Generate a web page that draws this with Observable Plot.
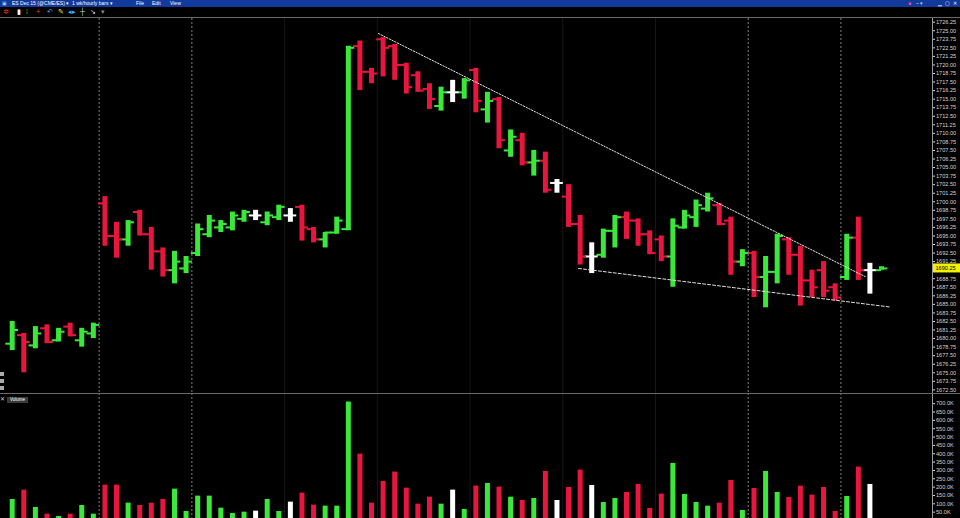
<!DOCTYPE html>
<html><head><meta charset="utf-8">
<script src="https://cdn.jsdelivr.net/npm/d3@7"></script>
<script src="https://cdn.jsdelivr.net/npm/@observablehq/plot@0.6"></script>
<style>
html,body{margin:0;padding:0;background:#000;overflow:hidden;width:960px;height:518px;font-family:"Liberation Sans",Arial,sans-serif}
#title{height:7px;background:#12399c;color:#fff;font-size:5px;line-height:7px;white-space:nowrap;position:relative}
#title span{position:absolute;top:0}
#tools{height:10px;background:#000;font-size:7px;line-height:10px;position:relative;white-space:nowrap}
#tools span{position:absolute;top:0}
#sep{height:1px;background:#6a6a6a}
#wrap{position:relative}
.vlabel{position:absolute;left:7px;top:397px;background:#3a3a3a;color:#fff;font-size:4.5px;line-height:6px;padding:0 3px}
.icon{position:absolute;left:0;width:4px;height:4px;background:#aaa}
svg{display:block}
</style></head>
<body>
<div id="title">
  <span style="left:2px;color:#9cf">▣</span>
  <span style="left:12px">ES Dec 15 (@CME/ES) ▾</span>
  <span style="left:72px">1 wk/hourly bars ▾</span>
  <span style="left:136px">File</span>
  <span style="left:152px">Edit</span>
  <span style="left:170px">View</span>
  <span style="left:908px;color:#ff3c8c">■</span>
  <span style="left:916px;color:#ccc">~ ▾</span>
  <span style="left:938px">▁</span>
  <span style="left:945px">▢</span>
  <span style="left:953px">✕</span>
</div>
<div id="tools">
  <span style="left:3px;color:#e33">✲</span>
  <span style="left:17px;color:#fff">▮</span>
  <span style="left:26px;color:#3e3">⁞</span>
  <span style="left:36px;color:#e33">+</span>
  <span style="left:47px;color:#4af">↶</span>
  <span style="left:58px;color:#ee3">✎</span>
  <span style="left:68px;color:#4af">◂▸</span>
  <span style="left:80px;color:#ddd">┼</span>
  <span style="left:90px;color:#ddd">↘</span>
  <span style="left:101px;color:#888">▾</span>
</div>
<div id="sep"></div>
<div id="wrap"></div>
<div class="vlabel">Volume</div>
<div class="icon" style="top:372px"></div>
<div class="icon" style="top:379px"></div>
<div class="icon" style="top:386px"></div>
<div style="position:absolute;left:0;top:395px;color:#ccc;font-size:6px">✕</div>
<script>
// ---- data (hourly OHLC bars, ES Dec 15) ----
const opens = [1679.25,1680.5,1679.0,1681.5,1679.75,1681.75,1679.75,1680.75,
  1699.75,1695.0,1694.5,1698.5,1695.25,1692.75,1690.0,1690.25,
  1692.5,1695.25,1696.25,1696.25,1697.5,1698.0,1697.0,1697.75,
  1698.0,1699.25,1696.0,1694.5,1695.5,1696.0,1722.75,1719.0,
  1723.75,1722.75,1720.0,1718.5,1716.5,1714.0,1716.0,1716.0,
  1719.25,1713.5,1715.0,1707.5,1709.0,1705.75,1706.0,1702.75,
  1700.75,1696.75,1692.0,1692.25,1695.75,1697.75,1697.25,1695.25,
  1694.5,1692.0,1696.25,1697.75,1699.0,1699.5,1697.25,1691.25,
  1692.5,1689.0,1689.75,1694.5,1692.25,1688.5,1690.0,1687.5,
  1689.0,1694.75,1690.0,1690.0];
const highs = [1682.5,1680.75,1681.75,1682.0,1681.5,1682.25,1681.5,1682.25,
  1700.75,1697.0,1697.25,1698.75,1696.25,1693.25,1692.75,1692.0,
  1696.75,1698.0,1697.25,1698.5,1698.75,1698.75,1698.5,1699.5,
  1699.0,1699.5,1696.25,1695.5,1697.75,1722.75,1723.5,1719.5,
  1724.0,1723.0,1720.25,1719.0,1717.25,1716.75,1717.75,1718.0,
  1719.5,1716.0,1715.25,1710.5,1710.0,1707.5,1707.25,1703.25,
  1702.5,1698.0,1694.0,1696.0,1698.0,1698.5,1697.5,1695.75,
  1695.0,1697.5,1698.75,1700.25,1701.25,1699.75,1697.75,1693.0,
  1692.75,1692.0,1695.25,1694.75,1693.5,1690.0,1691.25,1688.0,
  1695.25,1697.75,1691.0,1690.5];
const lows = [1678.25,1675.0,1678.5,1679.25,1679.5,1680.25,1678.75,1680.0,
  1693.5,1691.75,1693.5,1695.0,1690.0,1689.0,1688.0,1689.5,
  1692.0,1694.75,1695.5,1695.75,1697.0,1697.25,1696.5,1697.25,
  1697.0,1694.25,1694.0,1693.25,1695.25,1695.75,1716.25,1717.25,
  1718.25,1717.75,1715.75,1716.0,1713.5,1713.25,1714.5,1715.0,
  1713.0,1711.5,1707.75,1706.5,1705.25,1703.75,1701.25,1701.25,
  1696.25,1690.75,1689.5,1691.75,1693.25,1694.5,1693.5,1692.25,
  1691.25,1687.5,1696.0,1696.25,1698.5,1696.5,1689.25,1690.5,
  1686.0,1684.5,1688.0,1689.25,1684.75,1686.0,1686.0,1685.5,
  1688.5,1688.5,1686.5,1690.0];
const closes = [1681.25,1679.5,1680.75,1679.5,1681.0,1680.5,1681.0,1682.0,
  1695.0,1694.5,1697.0,1695.25,1692.75,1690.0,1691.25,1691.25,
  1696.0,1697.25,1696.75,1698.0,1698.5,1698.0,1698.0,1699.25,
  1698.0,1696.25,1694.5,1695.5,1697.25,1722.5,1719.0,1718.75,
  1722.5,1720.0,1716.75,1716.25,1715.0,1716.0,1716.0,1717.75,
  1714.75,1714.75,1709.0,1709.5,1705.75,1706.0,1701.75,1702.75,
  1696.75,1692.0,1692.0,1695.75,1697.75,1697.25,1695.25,1692.5,
  1692.0,1696.5,1698.0,1699.5,1700.5,1696.75,1691.25,1692.5,
  1689.0,1689.75,1695.0,1692.25,1688.5,1687.5,1687.0,1686.0,
  1694.75,1690.0,1690.0,1690.25];
const volumes = [126000,182000,78000,38000,24000,38000,90000,38000,
  212000,212000,104000,90000,104000,126000,188000,54000,
  146000,146000,74000,42000,50000,56000,126000,54000,
  110000,164000,92000,86000,86000,710000,398000,104000,
  234000,290000,194000,98000,140000,98000,182000,66000,
  206000,222000,200000,140000,120000,132000,294000,120000,
  198000,302000,210000,108000,132000,168000,216000,72000,
  158000,342000,156000,108000,86000,104000,240000,60000,
  192000,294000,168000,138000,206000,152000,198000,54000,
  144000,320000,216000,2000];
// session breaks (between bar indexes), bright dashed ones and faint ones
const dashedBreaks = [7.5, 15.5, 63.5, 71.5];
const faintBreaks = [23.5, 31.5, 39.5, 47.5, 55.5];
// trend lines drawn on the chart (bar index, price)
const upperTrend = [{i: 31.6, p: 1724.6}, {i: 73.6, p: 1689.05}];
const lowerTrend = [{i: 48.86, p: 1690.25}, {i: 75.8, p: 1684.6}];
// axis tick values
const priceTicks = d3.range(0, 44).map(k => 1672.5 + k * 1.25);
const volumeTicks = d3.range(1, 15).map(k => k * 50000);
const lastPrice = closes[closes.length - 1];

const GREEN = "#3ae83a", RED = "#e8163e", WHITE = "#ffffff";
const bars = opens.map((o, i) => ({i, open: o, high: highs[i], low: lows[i], close: closes[i], volume: volumes[i]}));
const colorOf = d => d.close > d.open ? GREEN : d.close < d.open ? RED : WHITE;
const xDomain = [-1.01, 79.4];
const baseStyle = {background: "#000", color: "#d4d4d4", fontSize: "5.6px", fontFamily: "Liberation Sans, Arial, sans-serif"};
// the tick hidden under the last-price highlight is left out
const shownPriceTicks = priceTicks.filter(t => Math.abs(t - lastPrice) > 0.6);

const price = Plot.plot({
  width: 960, height: 375, marginLeft: 0, marginRight: 28, marginTop: 0, marginBottom: 0,
  style: baseStyle,
  x: {domain: xDomain, axis: null},
  y: {domain: [1671.97, 1726.79], axis: "right", ticks: shownPriceTicks, tickFormat: d => d.toFixed(2), tickSize: 2, tickPadding: 1.5, label: null},
  marks: [
    Plot.ruleX(faintBreaks, {stroke: "#161616"}),
    Plot.ruleX(dashedBreaks, {stroke: "#808080", strokeDasharray: "2,2"}),
    Plot.ruleX(bars, {x: "i", y1: "low", y2: "high", stroke: colorOf, strokeWidth: 5}),
    Plot.ruleY(bars, {y: "open", x1: d => d.i - 0.55, x2: "i", stroke: colorOf, strokeWidth: 2}),
    Plot.ruleY(bars, {y: "close", x1: "i", x2: d => d.i + 0.55, stroke: colorOf, strokeWidth: 2}),
    Plot.line(upperTrend, {x: "i", y: "p", stroke: "#e0e0e0", strokeWidth: 1, strokeDasharray: "1.5,1.5"}),
    Plot.line(lowerTrend, {x: "i", y: "p", stroke: "#e0e0e0", strokeWidth: 1, strokeDasharray: "3,2"})
  ]
});

const vol = Plot.plot({
  width: 960, height: 125, marginLeft: 0, marginRight: 28, marginTop: 0, marginBottom: 0,
  style: baseStyle,
  x: {domain: xDomain, axis: null},
  y: {domain: [0, 761000], range: [127, 0], axis: "right", ticks: volumeTicks, tickFormat: d => (d / 1000).toFixed(1) + "K", tickSize: 2, tickPadding: 1.5, label: null},
  marks: [
    Plot.ruleX(faintBreaks, {stroke: "#161616"}),
    Plot.ruleX(dashedBreaks, {stroke: "#808080", strokeDasharray: "2,2"}),
    Plot.ruleX(bars, {x: "i", y1: 0, y2: "volume", stroke: colorOf, strokeWidth: 5})
  ]
});

const wrap = document.getElementById("wrap");
wrap.appendChild(price);
wrap.appendChild(vol);

// axis lines and panel separator
const axisX = 960 - 28 + 0.5;
d3.select(price).append("line").attr("x1", axisX).attr("x2", axisX).attr("y1", 0).attr("y2", 375).attr("stroke", "#9a9a9a");
d3.select(vol).append("line").attr("x1", axisX).attr("x2", axisX).attr("y1", 0).attr("y2", 125).attr("stroke", "#9a9a9a");
d3.select(vol).append("line").attr("x1", 0).attr("x2", 960).attr("y1", 0.5).attr("y2", 0.5).attr("stroke", "#6a6a6a");

// last price highlight on the price axis
const yLast = price.scale("y").apply(lastPrice);
const g = d3.select(price).append("g").attr("text-anchor", "start");
g.append("rect").attr("x", axisX + 0.5).attr("y", yLast - 4.5).attr("width", 27).attr("height", 9).attr("fill", "#f2f200");
g.append("text").attr("x", axisX + 3).attr("y", yLast + 2)
  .style("fill", "#000").style("font-size", "5.6px").style("font-family", "Liberation Sans, Arial, sans-serif")
  .text(lastPrice.toFixed(2));
</script>
</body></html>
